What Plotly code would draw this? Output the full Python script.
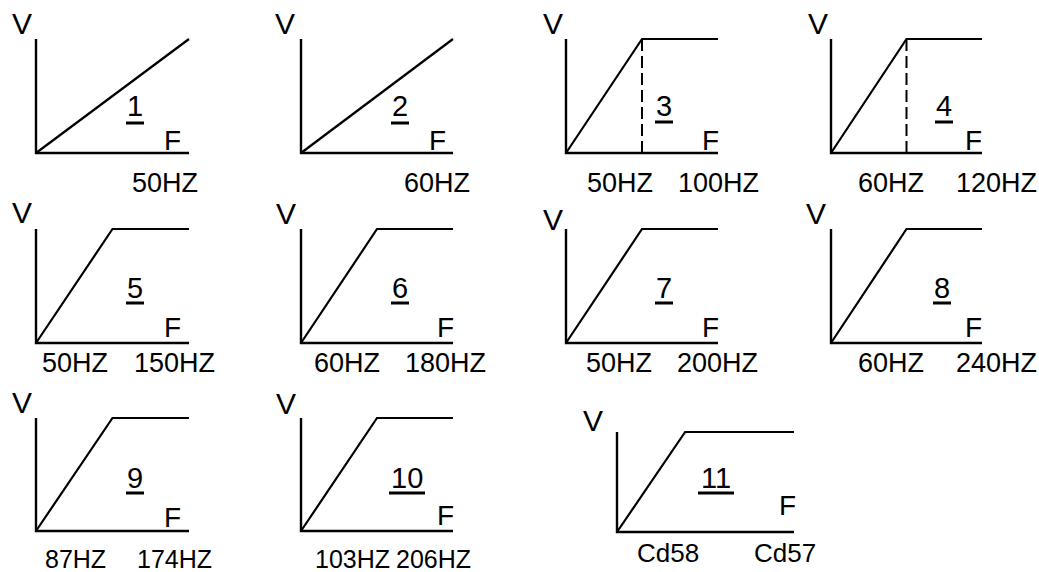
import plotly.graph_objects as go

# ---------------- data ----------------
panel_ids = ["1", "2", "3", "4", "5", "6", "7", "8", "9", "10", "11"]
knee_frac = [1.0, 1.0, 0.5, 0.5, 0.5, 0.5, 0.5, 0.5, 0.5, 0.5, 0.385]
dashed_knee = [False, False, True, True, False, False, False, False, False, False, False]
base_labels = ["", "", "50HZ", "60HZ", "50HZ", "60HZ", "50HZ", "60HZ", "87HZ", "103HZ", "Cd58"]
max_labels = ["50HZ", "60HZ", "100HZ", "120HZ", "150HZ", "180HZ", "200HZ", "240HZ", "174HZ", "206HZ", "Cd57"]

# ---------------- layout (pixels) ----------------
W, H = 1039, 572
# axis boxes: x0, x1, ytop, ybottom
boxes = [
    (36, 189, 39, 153), (301, 453, 39, 153), (566, 718, 39, 153), (831, 982, 39, 153),
    (36, 189, 229, 343), (301, 453, 229, 343), (566, 718, 229, 343), (831, 982, 229, 343),
    (36, 189, 418, 531), (301, 453, 418, 531), (617, 794, 432, 532),
]
# offsets relative to origin (x0, ybottom); y up positive
v_pos = [(-14, 130), (-16, 130), (-13, 130), (-13, 130), (-14, 131), (-15, 130), (-13, 123),
         (-15, 130), (-14, 129), (-15, 128), (-24, 112)]
num_pos = [(99, 47), (99, 47), (98, 47), (113, 47), (99, 55), (99, 55), (98, 55), (111, 55),
           (99, 53), (106, 53), (99, 54)]
ul_y = [30, 30, 31, 31, 40, 40, 40, 40, 38, 38, 39]
f_pos = [(136, 13), (136, 13), (144, 13), (142, 13), (136, 16), (144, 16), (144, 16), (142, 16),
         (136, 14), (144, 16), (170, 27)]
base_pos = [None, None, (54, -30), (60, -30), (39, -20), (46, -20), (53, -20), (60, -20),
            (39, -28), (51, -28), (51, -21)]
max_pos = [(129, -30), (136, -30), (152, -30), (165, -30), (138, -20), (144, -20), (151, -20),
           (165, -20), (138, -28), (132, -28), (168, -21)]
label_size = [27, 27, 27, 27, 27, 27, 27, 27, 25, 25, 26]

FONT = "Liberation Sans, Arial, sans-serif"
pad = 8


def px_x(px):
    return px / W


def px_y(py):
    return 1 - py / H


fig = go.Figure()
annotations = []
shapes = []
layout_axes = {}

for i, pid in enumerate(panel_ids):
    x0, x1, yt, yb = boxes[i]
    w, h = x1 - x0, yb - yt
    n = "" if i == 0 else str(i + 1)
    xa, ya = "x" + n, "y" + n
    layout_axes["xaxis" + n] = dict(
        domain=[px_x(x0 - pad), px_x(x1 + pad)], range=[-pad / w, 1 + pad / w],
        visible=False, fixedrange=True, anchor=ya)
    layout_axes["yaxis" + n] = dict(
        domain=[px_y(yb + pad), px_y(yt - pad)], range=[-pad / h, 1 + pad / h],
        visible=False, fixedrange=True, anchor=xa)

    # axes (V and F)
    fig.add_trace(go.Scatter(x=[0, 0, 1], y=[1, 0, 0], mode="lines",
                             line=dict(color="black", width=2.4), xaxis=xa, yaxis=ya,
                             hoverinfo="skip", showlegend=False))
    # V/F curve
    k = knee_frac[i]
    cx = [0, k] + ([1] if k < 1 else [])
    cy = [0, 1] + ([1] if k < 1 else [])
    fig.add_trace(go.Scatter(x=cx, y=cy, mode="lines",
                             line=dict(color="black", width=2.2), xaxis=xa, yaxis=ya,
                             hoverinfo="skip", showlegend=False))
    if dashed_knee[i]:
        fig.add_trace(go.Scatter(x=[k, k], y=[1, 0], mode="lines",
                                 line=dict(color="black", width=2, dash="12px,5px"),
                                 xaxis=xa, yaxis=ya, hoverinfo="skip", showlegend=False))

    def ann(text, pos, size):
        annotations.append(dict(text=text, x=px_x(x0 + pos[0]), y=px_y(yb - pos[1]),
                                xref="paper", yref="paper",
                                showarrow=False, xanchor="center", yanchor="middle",
                                font=dict(family=FONT, size=size, color="black")))

    ann("V", v_pos[i], 30)
    ann(pid, num_pos[i], 29)
    ann("F", f_pos[i], 28)
    if base_pos[i] is not None:
        ann(base_labels[i], base_pos[i], label_size[i])
    ann(max_labels[i], max_pos[i], label_size[i])

    half = 9 if len(pid) == 1 else 18
    shapes.append(dict(type="line", xref="paper", yref="paper",
                       x0=px_x(x0 + num_pos[i][0] - half), x1=px_x(x0 + num_pos[i][0] + half),
                       y0=px_y(yb - ul_y[i]), y1=px_y(yb - ul_y[i]),
                       line=dict(color="black", width=3)))

fig.update_layout(
    width=W, height=H, margin=dict(l=0, r=0, t=0, b=0),
    paper_bgcolor="white", plot_bgcolor="rgba(0,0,0,0)",
    annotations=annotations, shapes=shapes, showlegend=False,
    **layout_axes,
)

fig.write_html(
    "out.html",
    config={"displayModeBar": False, "staticPlot": True},
    post_script="document.body.style.margin='0';document.body.style.overflow='hidden';",
)
